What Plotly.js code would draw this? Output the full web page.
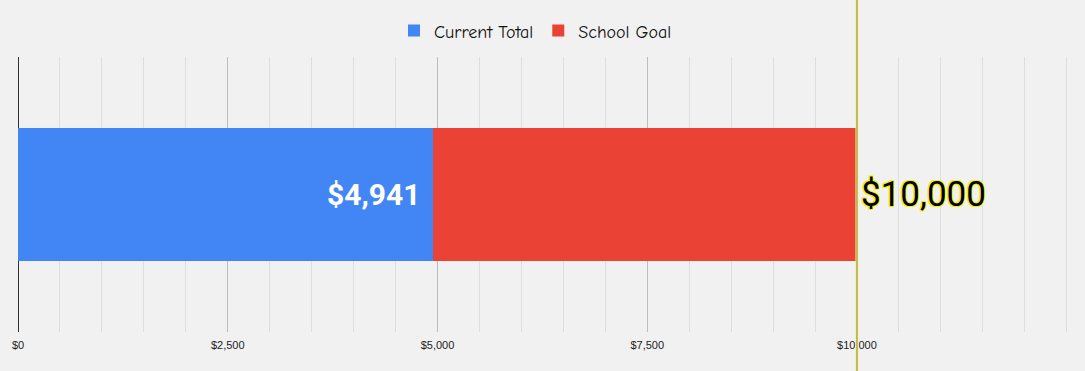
<!DOCTYPE html>
<html>
<head>
<meta charset="utf-8">
<script src="https://cdn.plot.ly/plotly-3.0.1.min.js"></script>
<style>html,body{margin:0;padding:0;background:#f1f1f1;}#chart{width:1085px;height:371px;}</style>
</head>
<body>
<div id="chart"></div>
<script>
var categories = ['Fundraiser'];
var currentTotal = [4941];
var schoolGoal = [10000];
var seriesNames = ['Current Total', 'School Goal'];
var tickVals = [0, 2500, 5000, 7500, 10000];
var tickText = ['$0', '$2,500', '$5,000', '$7,500', '$10,000'];

function money(v) { return '$' + v.toLocaleString('en-US'); }

var remaining = schoolGoal.map(function (g, i) { return g - currentTotal[i]; });

var traces = [
  {
    type: 'bar', orientation: 'h', name: seriesNames[0],
    y: categories, x: currentTotal, width: 0.484,
    marker: { color: '#4285f4' }, hoverinfo: 'x'
  },
  {
    type: 'bar', orientation: 'h', name: seriesNames[1],
    y: categories, x: remaining, width: 0.484,
    marker: { color: '#ea4335' }, hoverinfo: 'x'
  }
];

var robo = 'Roboto, sans-serif';

var layout = {
  width: 1085, height: 371,
  margin: { l: 18, r: 0, t: 57, b: 39, pad: 0 },
  paper_bgcolor: '#f1f1f1', plot_bgcolor: '#f1f1f1',
  barmode: 'stack', bargap: 0,
  showlegend: true,
  legend: {
    orientation: 'h', x: 0.485, xanchor: 'center', y: 1.095, yanchor: 'middle',
    traceorder: 'normal',
    font: { family: 'Comic Sans MS, Comic Neue, cursive', size: 18, color: '#111' },
    itemwidth: 30, bgcolor: 'rgba(0,0,0,0)'
  },
  xaxis: {
    range: [0, 12718], fixedrange: true,
    tickvals: tickVals, ticktext: tickText,
    tickfont: { family: 'Liberation Sans, Arial, sans-serif', size: 11, color: '#222' },
    showgrid: true, gridcolor: '#bcbcbc', gridwidth: 1,
    dtick: 2500,
    minor: { dtick: 500, showgrid: true, gridcolor: '#dedede', gridwidth: 1 },
    zeroline: true, zerolinecolor: '#333', zerolinewidth: 1,
    showline: false, ticks: '', ticklabelstandoff: 5
  },
  yaxis: {
    showticklabels: false, showgrid: false, zeroline: false, showline: false,
    fixedrange: true
  },
  shapes: [
    { type: 'line', xref: 'x', yref: 'paper', x0: schoolGoal[0], x1: schoolGoal[0], y0: -0.15, y1: 1.22,
      line: { color: '#f3f09a', width: 3 }, layer: 'above' },
    { type: 'line', xref: 'x', yref: 'paper', x0: schoolGoal[0], x1: schoolGoal[0], y0: -0.15, y1: 1.22,
      line: { color: '#8e8a1c', width: 1 }, layer: 'above' }
  ],
  annotations: [
    { x: currentTotal[0], y: categories[0], xref: 'x', yref: 'y',
      text: '<b>' + money(currentTotal[0]) + '</b>', showarrow: false,
      xanchor: 'right', yanchor: 'middle', xshift: -11,
      font: { family: robo, size: 30, color: '#ffffff' } },
    { x: schoolGoal[0], y: categories[0], xref: 'x', yref: 'y',
      text: money(schoolGoal[0]), showarrow: false,
      xanchor: 'left', yanchor: 'middle', xshift: 2,
      font: { family: robo, size: 35, color: '#000000',
        shadow: '1px 1px 0 #f5f000, -1px -1px 0 #f5f000, 1px -1px 0 #f5f000, -1px 1px 0 #f5f000' } }
  ]
};

Plotly.newPlot('chart', traces, layout, { displayModeBar: false, staticPlot: true });
</script>
</body>
</html>
